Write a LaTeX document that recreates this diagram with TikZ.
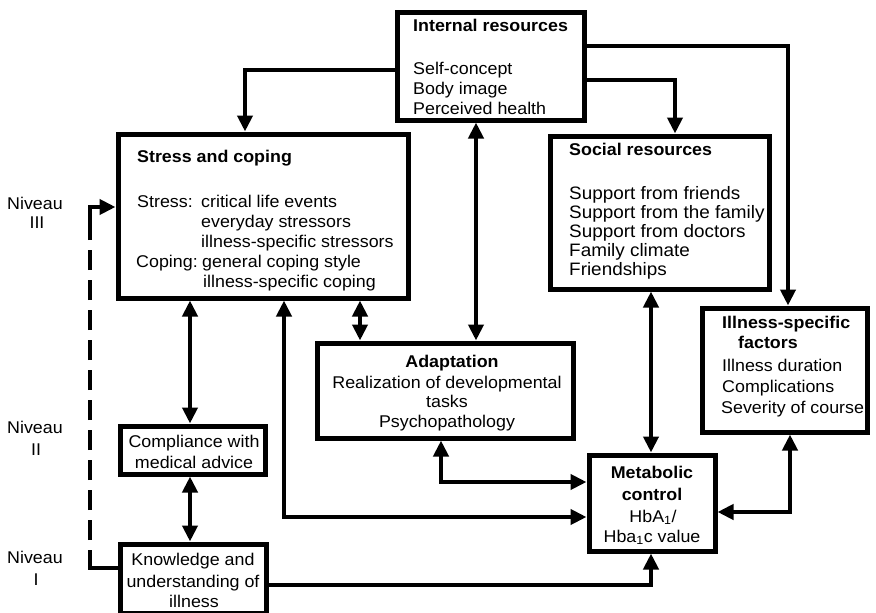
\documentclass[tikz,border=0pt]{standalone}
\usepackage{fontspec}
\setmainfont{Liberation Sans}[FakeStretch=1.05]
\usetikzlibrary{arrows.meta,fit}
\begin{document}
\begin{tikzpicture}[x=1pt,y=-1pt,
  >={Triangle[length=16pt,width=15pt]},
  box/.style={draw, line width=5pt, inner sep=0pt},
  conn/.style={line width=4.5pt, ->},
  conntwo/.style={line width=4.5pt, <->},
  plain/.style={line width=4.5pt},
  tx/.style={inner sep=0pt, anchor=base west, font=\fontsize{17}{20}\selectfont},
  txs/.style={inner sep=0pt, anchor=base west, font=\fontsize{18}{20}\selectfont},
  tc/.style={inner sep=0pt, anchor=base, font=\fontsize{17}{20}\selectfont}]
\useasboundingbox (0,0) rectangle (876,613);

% boxes
\node[box, fit={(397,12) (584,120)}] (IR) {};
\node[box, fit={(118,134) (408,298)}] (SC) {};
\node[box, fit={(550,136) (769,289)}] (SR) {};
\node[box, fit={(702,308) (867,432)}] (IS) {};
\node[box, fit={(317,343) (573,438)}] (AD) {};
\node[box, fit={(589,455) (715,551)}] (MC) {};
\node[box, fit={(120,426) (265,474)}] (CO) {};
\node[box, fit={(120,544) (266,613)}] (KN) {};

% texts
\node[tx] (irT) at (413,31) {\textbf{Internal resources}};
\node[tx] (ir1) at (413,74) {Self-concept};
\node[tx] (ir2) at (413,94) {Body image};
\node[tx] (ir3) at (413,114) {Perceived health};

\node[tx] (scT) at (137,162) {\textbf{Stress and coping}};
\node[tx] (sc1) at (137,207) {Stress:};
\node[tx] (sc2) at (201,207) {critical life events};
\node[tx] (sc3) at (201,227) {everyday stressors};
\node[tx] (sc4) at (201,247) {illness-specific stressors};
\node[tx] (sc5) at (136,267) {Coping:};
\node[tx] (sc6) at (202,267) {general coping style};
\node[tx] (sc7) at (203,287) {illness-specific coping};

\node[tx] (srT) at (569,155) {\textbf{Social resources}};
\node[txs] (sr1) at (569,199) {Support from friends};
\node[txs] (sr2) at (569,218) {Support from the family};
\node[txs] (sr3) at (569,237) {Support from doctors};
\node[txs] (sr4) at (569,256) {Family climate};
\node[txs] (sr5) at (569,275) {Friendships};

\node[tx] (isT) at (722,328) {\textbf{Illness-specific}};
\node[tx] (isT2) at (738,348) {\textbf{factors}};
\node[tx] (is1) at (722,371) {Illness duration};
\node[tx] (is2) at (722,392) {Complications};
\node[tx] (is3) at (721,413) {Severity of course};

\node[tc] (adT) at (452,367) {\textbf{Adaptation}};
\node[tc] (ad1) at (447,388) {Realization of developmental};
\node[tc] (ad2) at (447,407) {tasks};
\node[tc] (ad3) at (447,427) {Psychopathology};

\node[tc] (mcT) at (652,478) {\textbf{Metabolic}};
\node[tc] (mcT2) at (652,500) {\textbf{control}};
\node[tc] (mc1) at (653,522) {HbA\textsubscript{1}/};
\node[tc] (mc2) at (652,542) {Hba\textsubscript{1}c value};

\node[tc] (co1) at (194,447) {Compliance with};
\node[tc] (co2) at (194,468) {medical advice};

\node[tc] (kn1) at (193,565) {Knowledge and};
\node[tc] (kn2) at (193,587) {understanding of};
\node[tc] (kn3) at (194,607) {illness};

\node[tc] (n3a) at (35,209) {Niveau};
\node[tc] (n3b) at (37,228) {III};
\node[tc] (n2a) at (35,433) {Niveau};
\node[tc] (n2b) at (36,455) {II};
\node[tc] (n1a) at (35,563) {Niveau};
\node[tc] (n1b) at (36,585) {I};

% bend coordinates
\coordinate (c1) at (245,70);
\coordinate (c2) at (675,80);
\coordinate (c3) at (788,46);
\coordinate (c4) at (476,0);
\coordinate (c5) at (360,0);
\coordinate (c6) at (190,0);
\coordinate (c7) at (284,517);
\coordinate (c8) at (441,482);
\coordinate (c9) at (651,0);
\coordinate (c10) at (651,585);
\coordinate (c11) at (790,512);
\coordinate (c12) at (90,568);
\coordinate (c12b) at (90,550);
\coordinate (c13b) at (90,240);
\coordinate (c13) at (90,207);

% connectors
\draw[conn] (IR.west |- c1) -- (c1) -- (c1 |- SC.north);
\draw[conn] (IR.east |- c2) -- (c2) -- (c2 |- SR.north);
\draw[conn] (IR.east |- c3) -- (c3) -- (c3 |- IS.north);
\draw[conntwo] (c4 |- IR.south) -- (c4 |- AD.north);
\draw[conntwo] (c5 |- SC.south) -- (c5 |- AD.north);
\draw[conntwo] (c6 |- SC.south) -- (c6 |- CO.north);
\draw[conntwo] (c6 |- CO.south) -- (c6 |- KN.north);
\draw[conntwo] (c7 |- SC.south) -- (c7) -- (MC.west |- c7);
\draw[conntwo] (c8 |- AD.south) -- (c8) -- (MC.west |- c8);
\draw[conntwo] (c9 |- SR.south) -- (c9 |- MC.north);
\draw[conn] (KN.east |- c10) -- (c10) -- (c10 |- MC.south);
\draw[conntwo] (MC.east |- c11) -- (c11) -- (c11 |- IS.south);

% dashed feedback line
\draw[plain] (KN.west |- c12) -- (c12) -- (c12b);
\draw[plain, dash pattern=on 20pt off 10pt, dash phase=20pt] (c12b) -- (c13b);
\draw[conn] (c13b) -- (c13) -- (SC.west |- c13);
\end{tikzpicture}
\end{document}
